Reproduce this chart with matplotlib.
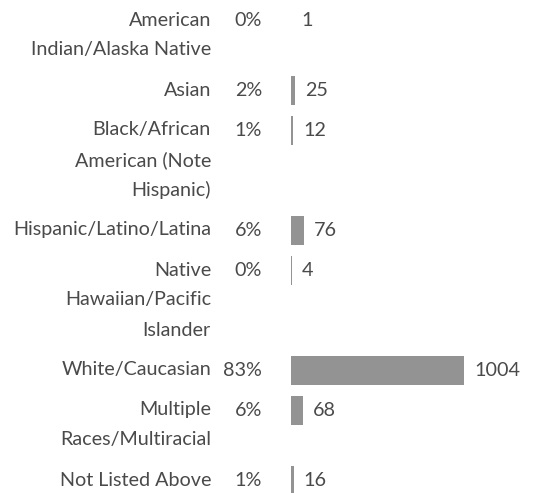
import matplotlib.pyplot as plt
from matplotlib.transforms import offset_copy

plt.rcParams["font.family"] = ["Lato", "DejaVu Sans"]

labels = [
    "American\nIndian/Alaska Native",
    "Asian",
    "Black/African\nAmerican (Note\nHispanic)",
    "Hispanic/Latino/Latina",
    "Native\nHawaiian/Pacific\nIslander",
    "White/Caucasian",
    "Multiple\nRaces/Multiracial",
    "Not Listed Above",
]
percents = ["0%", "2%", "1%", "6%", "0%", "83%", "6%", "1%"]
counts = [1, 25, 12, 76, 4, 1004, 68, 16]

W, H = 555, 493
DPI = 100
text_color = "#4a4a4a"
bar_color = "#939393"
fs = 14.2

fig = plt.figure(figsize=(W / DPI, H / DPI), dpi=DPI)
fig.patch.set_facecolor("white")

# bar area: starts at 291px, 1004 maps to ~173px
bar_left, bar_w = 291, 173
ax = fig.add_axes([bar_left / W, 0, bar_w / W, 1])
ax.set_xlim(0, max(counts))
ax.set_ylim(H, 0)
ax.axis("off")

# first-line centre of each row, rows grow by 30px per extra label line
ys = []
y = 20
for lab in labels:
    ys.append(y)
    y += 40 + 30 * (lab.count("\n"))

ax.barh(ys, counts, height=29, color=bar_color, left=0, linewidth=0)

label_x = 211 - bar_left
pct_x = 262 - bar_left
for lab, pct, n, yc in zip(labels, percents, counts, ys):
    for i, line in enumerate(lab.split("\n")):
        tr = offset_copy(ax.transData, fig=fig, x=label_x * 72 / DPI, y=0, units="points")
        ax.text(0, yc + 30 * i, line, transform=tr, ha="right", va="center",
                fontsize=fs, color=text_color, clip_on=False)
    tr = offset_copy(ax.transData, fig=fig, x=pct_x * 72 / DPI, y=0, units="points")
    ax.text(0, yc, pct, transform=tr, ha="right", va="center",
            fontsize=fs, color=text_color, clip_on=False)
    tr = offset_copy(ax.transData, fig=fig, x=10 * 72 / DPI, y=0, units="points")
    ax.text(n, yc, str(n), transform=tr, ha="left", va="center",
            fontsize=fs, color=text_color, clip_on=False)

fig.savefig("out.png", dpi=DPI)
